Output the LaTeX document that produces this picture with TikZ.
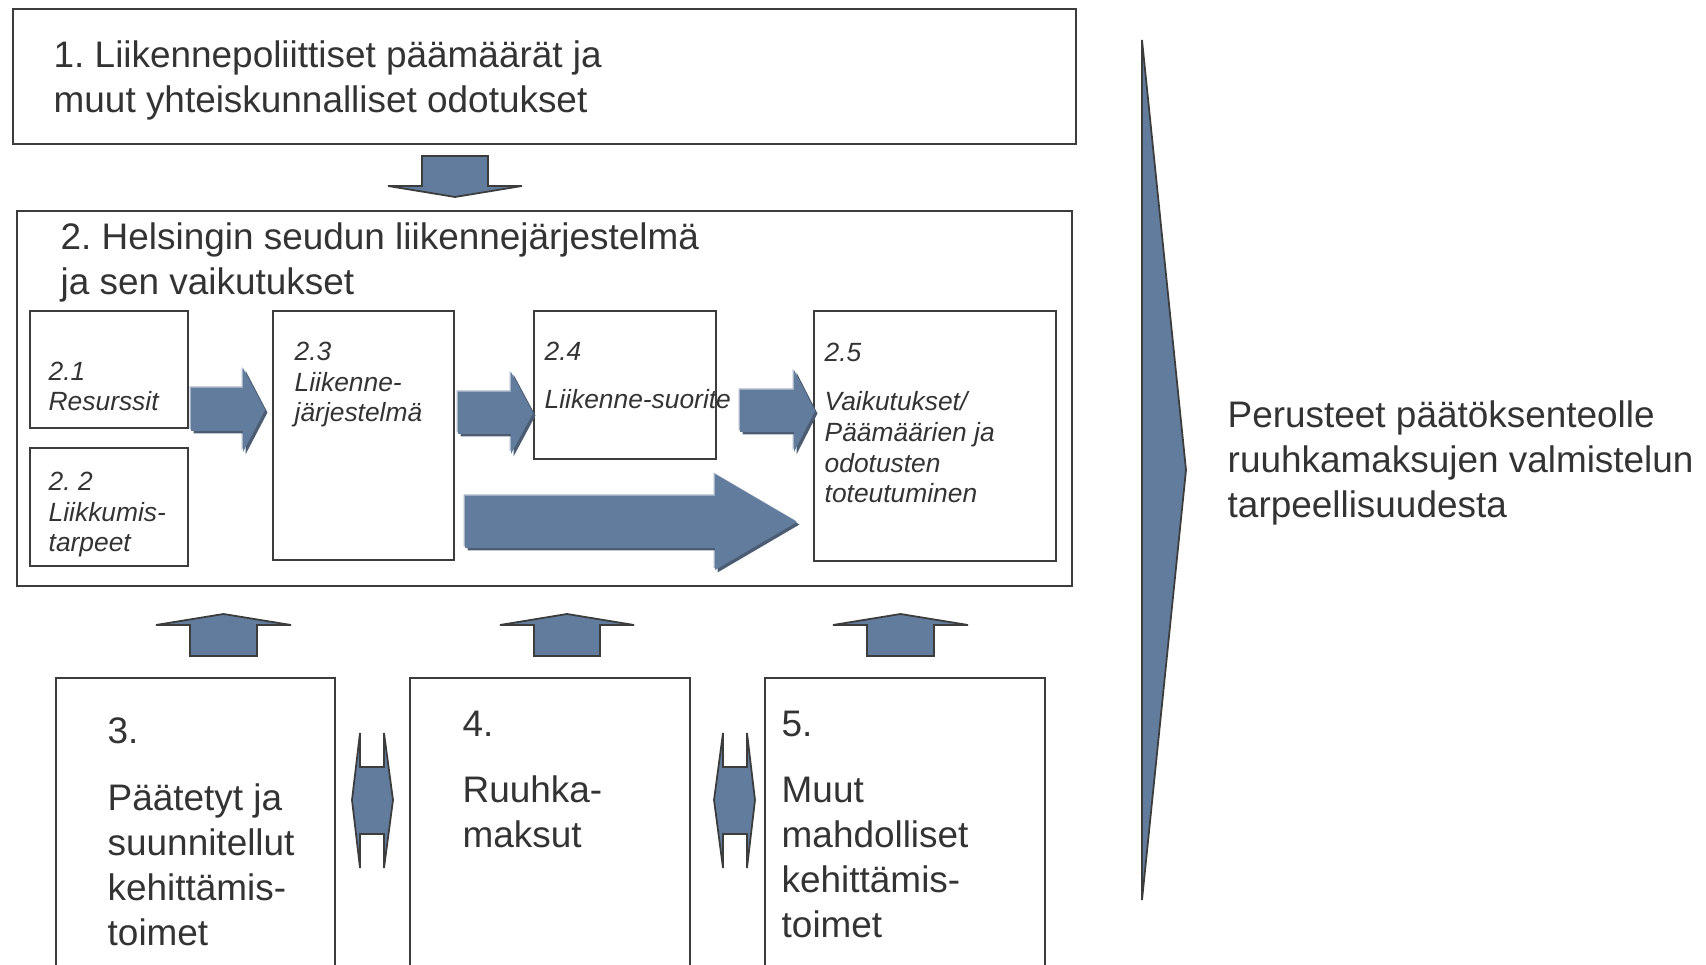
\documentclass[tikz,border=0pt]{standalone}
\usepackage{fontspec}
\setmainfont{Liberation Sans}
\frenchspacing

\definecolor{linegrey}{HTML}{3C3C3C}
\definecolor{textgrey}{HTML}{333333}
\definecolor{arrowblue}{HTML}{617C9C}
\definecolor{arrowshade}{HTML}{4C5D73}
\definecolor{arrowlight}{HTML}{A8B5C7}

\tikzstyle{box}=[
    rectangle,
    draw=linegrey,
    line width=0.6pt,
    inner sep=0pt,
    anchor=north west
]
\tikzstyle{bigtext}=[
    anchor=base west,
    align=left,
    inner sep=0pt,
    text=textgrey,
    font=\fontsize{10.5}{12.8}\selectfont
]
\tikzstyle{smalltext}=[
    anchor=base west,
    align=left,
    inner sep=0pt,
    text=textgrey,
    font=\fontsize{7.5}{8.8}\selectfont\itshape
]
\tikzstyle{flatarrow}=[
    fill=arrowblue,
    draw=linegrey,
    line width=0.5pt,
    line join=miter
]

\begin{document}
\begin{tikzpicture}[x=0.01cm,y=-0.01cm]
    \useasboundingbox (0,0) rectangle (1706,965);
    \clip (0,0) rectangle (1706,965);

    % TOP LAYER (text nodes sit on the baseline of their last line)
    \node (b1) [box, minimum width=10.62cm, minimum height=1.35cm] at (12,8) {};
    \node (t1) [bigtext] at (53,113) {1. Liikennepoliittiset päämäärät ja\\muut yhteiskunnalliset odotukset};

    % SYSTEM LAYER
    \node (b2) [box, minimum width=10.54cm, minimum height=3.75cm] at (16,210) {};
    \node (t2) [bigtext] at (60,295) {2. Helsingin seudun liikennejärjestelmä\\ja sen vaikutukset};

    \node (b21) [box, minimum width=1.58cm, minimum height=1.17cm] at (29,310) {};
    \node (b22) [box, minimum width=1.58cm, minimum height=1.18cm] at (29,447) {};
    \node (b23) [box, minimum width=1.81cm, minimum height=2.49cm] at (272,310) {};
    \node (b24) [box, minimum width=1.82cm, minimum height=1.48cm] at (533,310) {};
    \node (b25) [box, minimum width=2.42cm, minimum height=2.50cm] at (813,310) {};

    \node (t21) [smalltext] at (48,411) {2.1\\Resurssit};
    \node (t22) [smalltext] at (48,552) {2. 2\\Liikkumis-\\tarpeet};
    \node (t23) [smalltext] at (294,422) {2.3\\Liikenne-\\järjestelmä};
    \node (t24) [smalltext] at (544,409) {2.4\\[5.1pt]Liikenne-suorite};
    \node (t25) [smalltext] at (824,503) {2.5\\[5.1pt]Vaikutukset/\\Päämäärien ja\\odotusten\\toteutuminen};

    % block arrows inside the system box
    \foreach \dx/\dy/\col in {-1.5/-1.5/arrowlight, 2.5/2.5/arrowshade, 0/0/arrowblue}
    {
        \fill[\col, shift={(\dx,\dy)}]
            (191,388) -- (243,388) -- (243,368) -- (265,410) -- (243,452) -- (243,431) -- (191,431) -- cycle
            (458,392) -- (511,392) -- (511,372) -- (533,413) -- (511,454) -- (511,434) -- (458,434) -- cycle
            (740,390) -- (794,390) -- (794,370) -- (815,411) -- (794,452) -- (794,432) -- (740,432) -- cycle
            (465,496) -- (715,496) -- (715,474) -- (797,522) -- (715,570) -- (715,548) -- (465,548) -- cycle;
    }

    % down arrow from 1 to 2
    \draw[flatarrow] (422,156) -- (488,156) -- (488,186) -- (522,186) -- (455,197) -- (388,186) -- (422,186) -- cycle;

    % MEASURE LAYER
    \node (b3) [box, minimum width=2.79cm, minimum height=3.2cm] at (55,677) {};
    \node (b4) [box, minimum width=2.80cm, minimum height=3.2cm] at (409,677) {};
    \node (b5) [box, minimum width=2.80cm, minimum height=3.2cm] at (764,677) {};

    \node (t3) [bigtext] at (107,946) {3.\\[6.5pt]Päätetyt ja\\suunnitellut\\kehittämis-\\toimet};
    \node (t4) [bigtext] at (462,848) {4.\\[6pt]Ruuhka-\\maksut};
    \node (t5) [bigtext] at (781,938) {5.\\[6pt]Muut\\mahdolliset\\kehittämis-\\toimet};

    % up arrows from 3, 4, 5 to 2
    \foreach \xa/\xb in {190/257, 534/600, 867/934}
    {
        \draw[flatarrow] (\xa,656) -- (\xa,625) -- ({\xa-34},625) -- ({(\xa+\xb)/2},614)
            -- ({\xb+34},625) -- (\xb,625) -- (\xb,656) -- cycle;
    }

    % double arrows between the measures
    \foreach \xa/\xb/\xl/\xr in {360/384/352/393, 723/747/714/755}
    {
        \draw[flatarrow] (\xa,733) -- (\xa,767) -- (\xb,767) -- (\xb,733) -- (\xr,800)
            -- (\xb,868) -- (\xb,834) -- (\xa,834) -- (\xa,868) -- (\xl,800) -- cycle;
    }

    % RESULT LAYER
    \draw[flatarrow] (1142,40) -- (1186,470) -- (1142,900) -- cycle;
    \node (tr) [bigtext] at (1227,518) {Perusteet päätöksenteolle\\ruuhkamaksujen valmistelun\\tarpeellisuudesta};
\end{tikzpicture}
\end{document}
